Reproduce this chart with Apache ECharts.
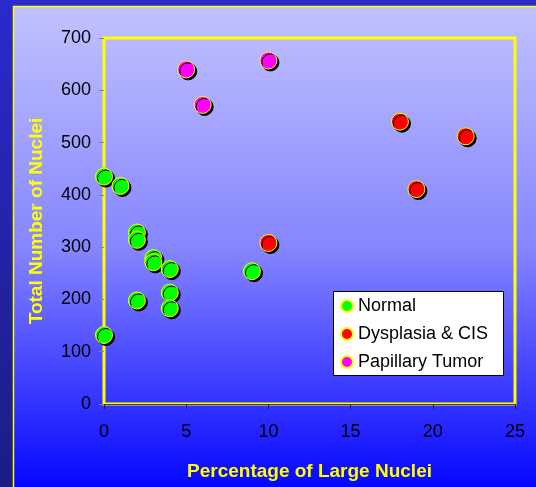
<!DOCTYPE html>
<html>
<head>
<meta charset="utf-8">
<script src="https://cdn.jsdelivr.net/npm/echarts@6/dist/echarts.min.js"></script>
<style>
html,body{margin:0;padding:0;background:#2a2acd;}
#c{width:536px;height:487px;}
</style>
</head>
<body>
<div id="c"></div>
<script>
// Data
var seriesNames = ['Normal', 'Dysplasia & CIS', 'Papillary Tumor'];
var normalData = [[0,435],[1,417],[2,328],[2,314],[3,279],[3,271],[4,258],[2,198],[4,213],[4,183],[0,132],[9,254]];
var dysplasiaData = [[10,308],[18,540],[22,512],[19,411]];
var papillaryData = [[5,640],[6,572],[10,657]];
var xTicks = [0,5,10,15,20,25];
var yTicks = [0,100,200,300,400,500,600,700];
var xTitle = 'Percentage of Large Nuclei';
var yTitle = 'Total Number of Nuclei';

var colors = ['#00ff00', '#ff0000', '#ff00ff'];
var datasets = [normalData, dysplasiaData, papillaryData];

var chart = echarts.init(document.getElementById('c'), null, {renderer: 'canvas'});
var font = 'Liberation Sans, Arial, sans-serif';

var series = seriesNames.map(function (n, i) {
  return {
    name: n,
    type: 'scatter',
    data: datasets[i],
    symbol: 'circle',
    symbolSize: 17,
    itemStyle: {
      color: colors[i],
      borderColor: '#ffff00',
      borderWidth: 1,
      shadowColor: '#000000',
      shadowBlur: 0,
      shadowOffsetX: 2,
      shadowOffsetY: 2,
      opacity: 1
    },
    emphasis: {disabled: true}
  };
});

chart.setOption({
  animation: false,
  backgroundColor: '#2a2acd',
  graphic: [
    {type: 'rect', z: -20, silent: true,
     shape: {x: 0, y: 0, width: 13, height: 487},
     style: {fill: new echarts.graphic.LinearGradient(0,0,0,1,[{offset:0,color:'#2a2acd'},{offset:1,color:'#1c1c84'}])}},
    {type: 'rect', z: -10, silent: true,
     shape: {x: 13.5, y: 6.5, width: 530, height: 490},
     style: {fill: new echarts.graphic.LinearGradient(0,0,0,1,[{offset:0,color:'#c2c2ff'},{offset:0.5,color:'#8484ff'},{offset:1,color:'#0000ff'}]),
             stroke: '#ffff00', lineWidth: 1.5}},
    {type: 'rect', z: 5, silent: true,
     shape: {x: 333.5, y: 291.5, width: 170, height: 84},
     style: {fill: '#ffffff', stroke: '#000000', lineWidth: 1}}
  ],
  grid: {
    left: 104, right: 21, top: 38, bottom: 83,
    show: true,
    borderColor: '#ffff00',
    borderWidth: 3,
    backgroundColor: 'transparent',
    containLabel: false
  },
  legend: {
    data: seriesNames,
    orient: 'vertical',
    left: 340,
    top: 296,
    z: 10,
    itemWidth: 12,
    itemHeight: 12,
    itemGap: 8,
    padding: 0,
    icon: 'circle',
    itemStyle: {shadowBlur: 0, shadowColor: 'transparent', shadowOffsetX: 0, shadowOffsetY: 0},
    textStyle: {fontFamily: font, fontSize: 18, color: '#000000', lineHeight: 20},
    selectedMode: false
  },
  xAxis: {
    type: 'value',
    min: xTicks[0], max: xTicks[xTicks.length-1], interval: 5,
    name: xTitle,
    nameLocation: 'middle',
    nameGap: 58,
    nameTextStyle: {fontFamily: font, fontSize: 19, fontWeight: 'bold', color: '#ffff00'},
    axisLine: {show: true, onZero: false, lineStyle: {color: '#404040', width: 1}},
    axisTick: {show: true, length: 5, inside: false, lineStyle: {color: '#202020'}},
    axisLabel: {fontFamily: font, fontSize: 18, color: '#000000', margin: 19},
    splitLine: {show: false}
  },
  yAxis: {
    type: 'value',
    min: yTicks[0], max: yTicks[yTicks.length-1], interval: 100,
    name: yTitle,
    nameLocation: 'middle',
    nameGap: 58,
    nameTextStyle: {fontFamily: font, fontSize: 19, fontWeight: 'bold', color: '#ffff00'},
    axisLine: {show: false},
    axisTick: {show: true, length: 5, lineStyle: {color: '#8a8a55'}},
    axisLabel: {fontFamily: font, fontSize: 18, color: '#000000', margin: 13},
    splitLine: {show: false}
  },
  series: series
});
</script>
</body>
</html>
